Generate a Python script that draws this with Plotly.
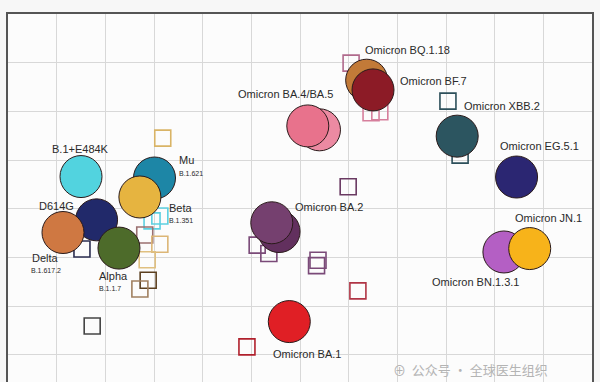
import plotly.graph_objects as go

# ---- Data: antigenic map coordinates (antigenic units) ----
antigen_names = ["B.1+E484K", "Mu", "Beta", "D614G", "Delta", "Alpha", "BA.1",
                 "BA.2 (b)", "Omicron BA.2", "BA.4/5 (b)", "Omicron BA.4/BA.5",
                 "Omicron BQ.1.18", "Omicron BF.7", "Omicron XBB.2", "Omicron EG.5.1",
                 "Omicron BN.1.3.1", "Omicron JN.1"]
antigen_x = [1.50, 3.01, 2.71, 1.82, 1.13, 2.28, 5.78, 5.57, 5.42, 6.40, 6.16,
             7.37, 7.50, 9.23, 10.45, 10.19, 10.72]
antigen_y = [3.66, 3.63, 3.24, 2.77, 2.51, 2.19, 0.68, 2.53, 2.71, 4.62, 4.70,
             5.64, 5.44, 4.49, 3.65, 2.11, 2.18]
antigen_colors = ["#52d3df", "#1d86a6", "#e6b440", "#21296a", "#cf7842", "#4d6b2a",
                  "#e01f25", "#62305e", "#75406f", "#ec8aa2", "#e8728c",
                  "#c27a38", "#8c1b26", "#2c5560", "#2b2672", "#b45fc4", "#f7b31a"]

serum_x = [7.05, 7.46, 7.64, 6.99, 9.04, 9.29, 5.12, 5.36, 6.37, 6.34, 7.19, 4.91,
           3.18, 3.12, 2.96, 1.52, 2.81, 3.12, 2.86, 2.88, 2.71, 1.73]
serum_y = [5.99, 4.97, 4.99, 3.45, 5.21, 4.10, 2.25, 2.08, 1.94, 1.83, 1.31, 0.16,
           4.45, 2.85, 2.75, 2.17, 2.46, 2.27, 1.95, 1.53, 1.35, 0.59]
serum_colors = ["#b06a8c", "#d67f9c", "#d67f9c", "#6a3a62", "#2c4f5a", "#2c4f5a",
                "#7a4a78", "#7a4a78", "#7a4a78", "#7a4a78", "#b03545", "#b0202c",
                "#d9b466", "#5ccfe0", "#5ccfe0", "#2a2d50", "#9a7070", "#dcb676",
                "#e0c080", "#5c4020", "#a08060", "#444444"]

# ---- Labels (text, index of antigen, pixel offsets, anchor, font size) ----
labels = [
    ("B.1+E484K", 0, -1, 28, "center", 11),
    ("Mu", 1, 23, 18, "left", 11),
    ("B.1.621", 1, 23, 5, "left", 7),
    ("Beta", 2, 27, -11, "left", 11),
    ("B.1.351", 2, 27, -24, "left", 7),
    ("D614G", 3, -21, 14, "right", 11),
    ("Delta", 4, -17, -25, "center", 11),
    ("B.1.617.2", 4, -17, -38, "center", 7),
    ("Alpha", 5, -22, -28, "left", 11),
    ("B.1.1.7", 5, -22, -40, "left", 7),
    ("Omicron BA.1", 6, -18, -32, "left", 11),
    ("Omicron BA.2", 8, 21, 16, "left", 11),
    ("Omicron BA.4/BA.5", 10, -22, 32, "center", 11),
    ("Omicron BQ.1.18", 11, -4, 30, "left", 11),
    ("Omicron BF.7", 12, 25, 9, "left", 11),
    ("Omicron XBB.2", 13, 5, 30, "left", 11),
    ("Omicron EG.5.1", 14, -19, 31, "left", 11),
    ("Omicron BN.1.3.1", 15, -74, -30, "left", 11),
    ("Omicron JN.1", 16, -17, 31, "left", 11),
]

fig = go.Figure()

fig.add_trace(go.Scatter(
    x=serum_x, y=serum_y, mode="markers",
    marker=dict(symbol="square-open", size=16, color=serum_colors,
                line=dict(width=1.6, color=serum_colors)),
    hoverinfo="skip", showlegend=False))

fig.add_trace(go.Scatter(
    x=antigen_x, y=antigen_y, mode="markers", text=antigen_names,
    marker=dict(symbol="circle", size=42, color=antigen_colors, opacity=1,
                line=dict(width=1, color="#2a1a1a")),
    hoverinfo="text", showlegend=False))

for txt, i, dx, dy, anc, fs in labels:
    fig.add_annotation(x=antigen_x[i], y=antigen_y[i], xref="x", yref="y",
                       text=txt, showarrow=False, xshift=dx, yshift=dy,
                       xanchor=anc, yanchor="middle",
                       font=dict(family="Liberation Sans, Arial, sans-serif",
                                 size=fs, color="#2a2a2a"))

# watermark
fig.add_annotation(x=0.655, y=0.002, xref="paper", yref="paper",
                   text="⊕  公众号 · 全球医生组织", showarrow=False,
                   xanchor="left", yanchor="bottom",
                   font=dict(family="Noto Sans CJK SC", size=13, color="#b4b4b4"))

fig.update_layout(
    width=600, height=382,
    margin=dict(l=8, r=8, t=14, b=0),
    paper_bgcolor="#f7f7f7", plot_bgcolor="#fcfcfc",
    xaxis=dict(range=[0, 12], dtick=1, tick0=0, showgrid=True, gridcolor="#d8d8d8",
               gridwidth=1, zeroline=False, showticklabels=False, ticks="",
               showline=True, linecolor="#555555", linewidth=1.5, side="top",
               mirror=False, fixedrange=True),
    yaxis=dict(range=[7 - 368 / 48.667, 7], dtick=1, tick0=0, showgrid=True,
               gridcolor="#d8d8d8", gridwidth=1, zeroline=False,
               showticklabels=False, ticks="", showline=True, linecolor="#555555",
               linewidth=1.5, mirror=True, fixedrange=True),
)

fig.write_html("out.html", config={"displayModeBar": False},
               post_script="document.body.style.margin='0';")
